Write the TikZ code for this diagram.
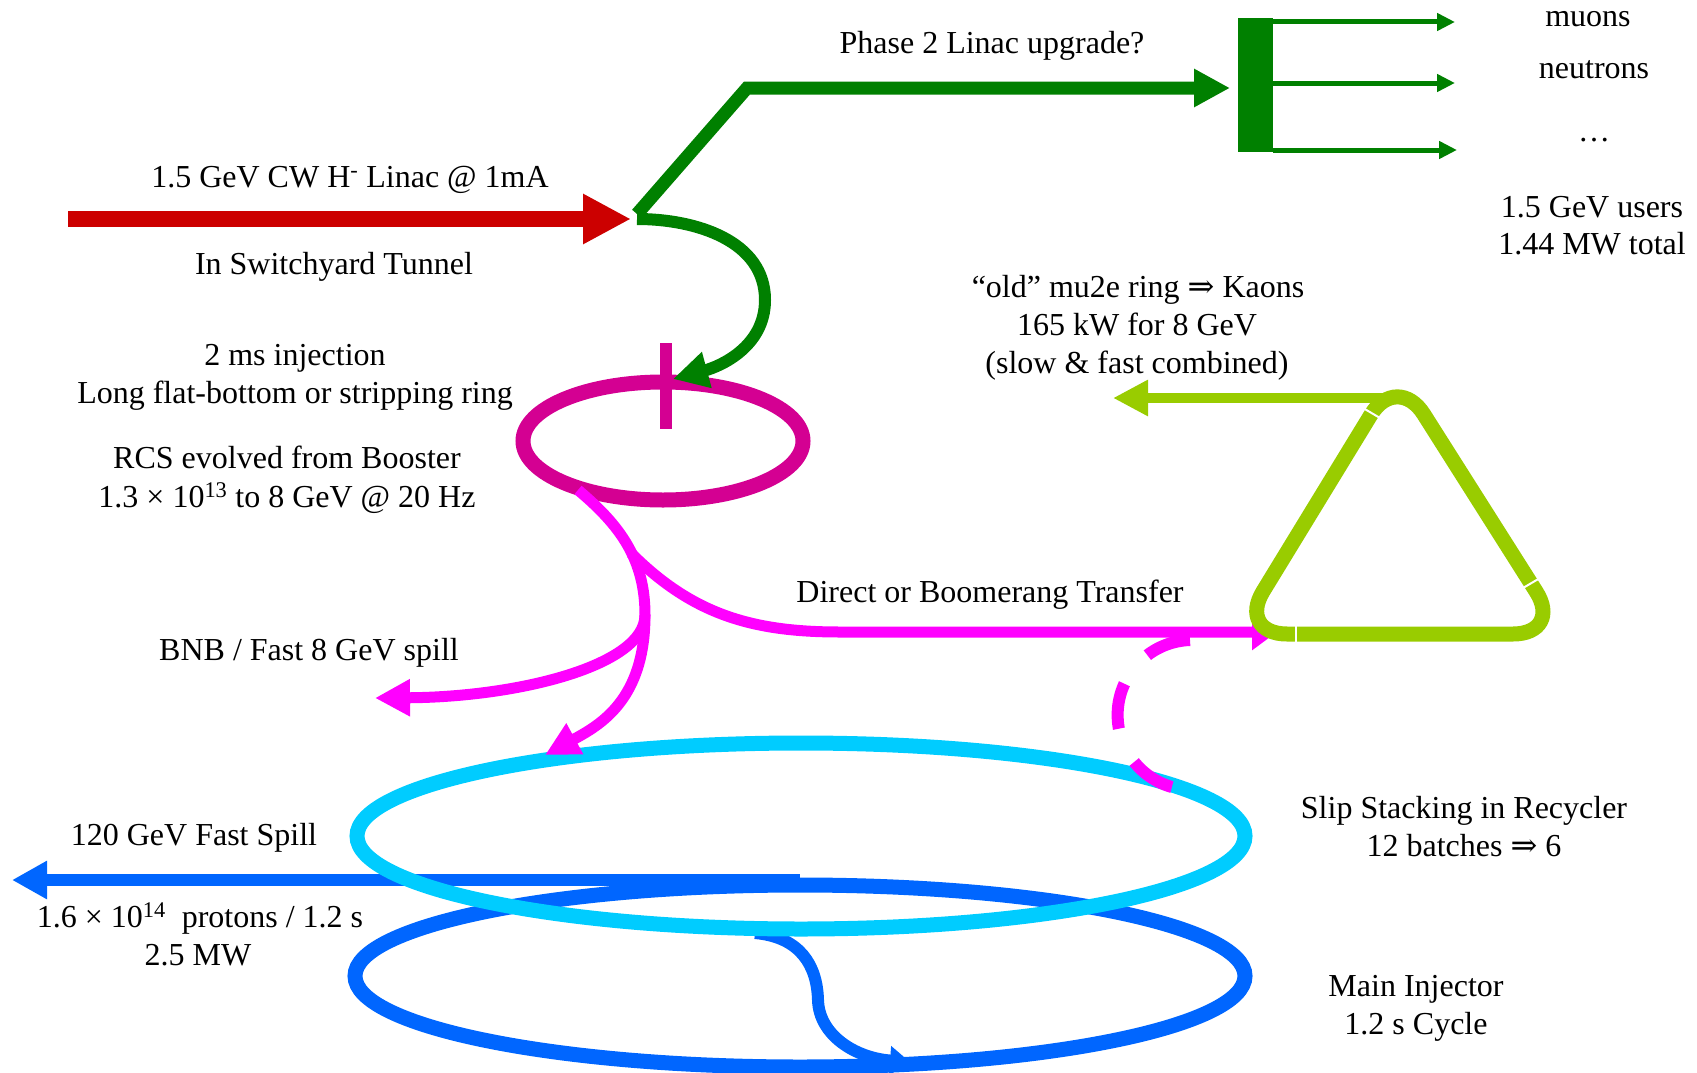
\documentclass[tikz,border=0pt]{standalone}
\usepackage{fontspec}
\setmainfont{Liberation Serif}
\newfontfamily\arrowfont{DejaVu Serif}
\usetikzlibrary{arrows.meta}
\definecolor{linacred}{RGB}{204,0,0}
\definecolor{dgreen}{RGB}{0,128,0}
\definecolor{rcsmag}{RGB}{212,0,146}
\definecolor{brmag}{RGB}{255,0,255}
\definecolor{limeg}{RGB}{153,204,0}
\definecolor{recyc}{RGB}{0,204,255}
\definecolor{miblue}{RGB}{0,102,255}
\newcommand{\impl}{{\arrowfont ⇒}}
\begin{document}
\begin{tikzpicture}[x=1pt,y=-1pt,
  lbl/.style={anchor=base, inner sep=0pt, text=black, font=\fontsize{32}{38}\selectfont},
  ring/.style={line width=15pt},
  beam/.style={line width=#1},
  tri/.style 2 args={-{Triangle[length=#1pt,width=#2pt]}}]
\useasboundingbox (0,0) rectangle (1697,1073);

% ---------- key points ----------
\coordinate (linacS) at (68,219);
\coordinate (linacT) at (631,219);
\coordinate (sw) at (637,214);
\coordinate (swc) at (637,219);
\coordinate (bend) at (747,88);
\coordinate (upgT) at (1230,88);
\coordinate (u1) at (1455,22);
\coordinate (u2) at (1455,83);
\coordinate (u3) at (1457,150);
\coordinate (loop) at (765,300);
\coordinate (inj) at (673,379);
\coordinate (rcsC) at (663,441);
\coordinate (tickT) at (666,343);
\coordinate (tickB) at (666,429);
\coordinate (rcsOut) at (578,490);
\coordinate (trunk) at (645,615);
\coordinate (fork) at (631,553);
\coordinate (riTip) at (545,755);
\coordinate (bnbTip) at (375,698);
\coordinate (dirTurn) at (840,632);
\coordinate (dirTip) at (1277,632);
\coordinate (dashS) at (1190,640);
\coordinate (apex) at (1388,398);
\coordinate (kaonT) at (1113,398);
\coordinate (miC) at (800,976);
\coordinate (rrC) at (801,836);
\coordinate (spillS) at (800,880);
\coordinate (spillT) at (12,880);
\coordinate (xferS) at (755,933);
\coordinate (xferM) at (818,1000);
\coordinate (xferT) at (910,1062);

% ---------- linac ----------
\draw[linacred, beam=16pt, tri={48}{47}] (linacS) -- (linacT);

% ---------- phase 2 ----------
\draw[dgreen, beam=13pt, line join=miter, tri={36}{36}] (sw) -- (bend) -- (upgT);
\node[fill=dgreen, minimum width=35pt, minimum height=134pt, inner sep=0pt, anchor=north west] (bar) at (1238,18) {};
\draw[dgreen, beam=5pt, tri={18}{17}] (bar.east |- u1) -- (u1);
\draw[dgreen, beam=5pt, tri={18}{17}] (bar.east |- u2) -- (u2);
\draw[dgreen, beam=5pt, tri={18}{17}] (bar.east |- u3) -- (u3);

% ---------- RCS ----------
\draw[rcsmag, ring] (rcsC) ellipse [x radius=140pt, y radius=59pt];
\draw[rcsmag, beam=12pt] (tickT) -- (tickB);
\draw[dgreen, beam=12pt, tri={35}{35}] (swc) to[out=0,in=90] (loop) to[out=-90,in=15] (inj);

% ---------- Main Injector ----------
\draw[miblue, ring] (miC) ellipse [x radius=445pt, y radius=91pt];
\draw[miblue, beam=12pt, tri={35}{36}] (spillS) -- (spillT);
\draw[miblue, beam=12pt, tri={20}{28}] (xferS) .. controls (800,937) and (817,965) .. (xferM)
   .. controls (819,1035) and (855,1058) .. (xferT);

% ---------- Recycler ----------
\draw[recyc, ring] (rrC) ellipse [x radius=444pt, y radius=93pt];

% ---------- 8 GeV lines ----------
\draw[brmag, beam=11pt] (rcsOut) to[out=-40,in=90] (trunk);
\draw[brmag, beam=11pt, tri={34}{33}] (trunk) .. controls (645,700) and (600,725) .. (riTip);
\draw[brmag, beam=11pt, tri={35}{35}] (trunk) .. controls (645,665) and (520,697) .. (bnbTip);
\draw[brmag, beam=11pt, tri={25}{35}] (fork) to[out=-45,in=180] (dirTurn) -- (dirTip);
\draw[brmag, beam=12pt, dash pattern=on 46pt off 37pt] (dashS) arc[start angle=92, end angle=264, radius=75pt];

% ---------- mu2e ring ----------
\draw[limeg, ring, rounded corners=50pt] (1400,634) -- (1237,634) -- (1397,372) -- (1563,634) -- cycle;
\draw[white, beam=2pt] (1363,408) -- (1380,418);
\draw[white, beam=2pt] (1296,625) -- (1296,643);
\draw[white, beam=2pt] (1523,588) -- (1540,578);
\draw[limeg, beam=10pt, tri={35}{34}] (apex) -- (kaonT);

% ---------- labels ----------
\node[lbl] (t1) at (350,187) {1.5 GeV CW H\textsuperscript{-} Linac @ 1mA};
\node[lbl] (t2) at (334,274) {In Switchyard Tunnel};
\node[lbl] (t3) at (992,54) {Phase 2 Linac upgrade?};
\node[lbl] (t4) at (1588,27) {muons};
\node[lbl] (t5) at (1594,78) {neutrons};
\node[lbl] (t6) at (1594,141) {…};
\node[lbl] (t7) at (1592,217) {1.5 GeV users};
\node[lbl] (t8) at (1592,254) {1.44 MW total};
\node[lbl] (t9) at (295,365) {2 ms injection};
\node[lbl] (t10) at (295,403) {Long flat-bottom or stripping ring};
\node[lbl] (t11) at (287,468) {RCS evolved from Booster};
\node[lbl] (t12) at (287,507) {1.3 × 10\textsuperscript{13} to 8 GeV @ 20 Hz};
\node[lbl] (t13) at (1138,297) {“old” mu2e ring \impl{} Kaons};
\node[lbl] (t14) at (1137,335) {165 kW for 8 GeV};
\node[lbl] (t15) at (1137,373) {(slow \& fast combined)};
\node[lbl] (t16) at (990,602) {Direct or Boomerang Transfer};
\node[lbl] (t17) at (309,660) {BNB / Fast 8 GeV spill};
\node[lbl] (t18) at (194,845) {120 GeV Fast Spill};
\node[lbl] (t19) at (200,927) {1.6 × 10\textsuperscript{14}\ \ protons / 1.2 s};
\node[lbl] (t20) at (198,965) {2.5 MW};
\node[lbl] (t21) at (1464,818) {Slip Stacking in Recycler};
\node[lbl] (t22) at (1464,856) {12 batches \impl{} 6};
\node[lbl] (t23) at (1416,996) {Main Injector};
\node[lbl] (t24) at (1416,1034) {1.2 s Cycle};
\end{tikzpicture}
\end{document}
